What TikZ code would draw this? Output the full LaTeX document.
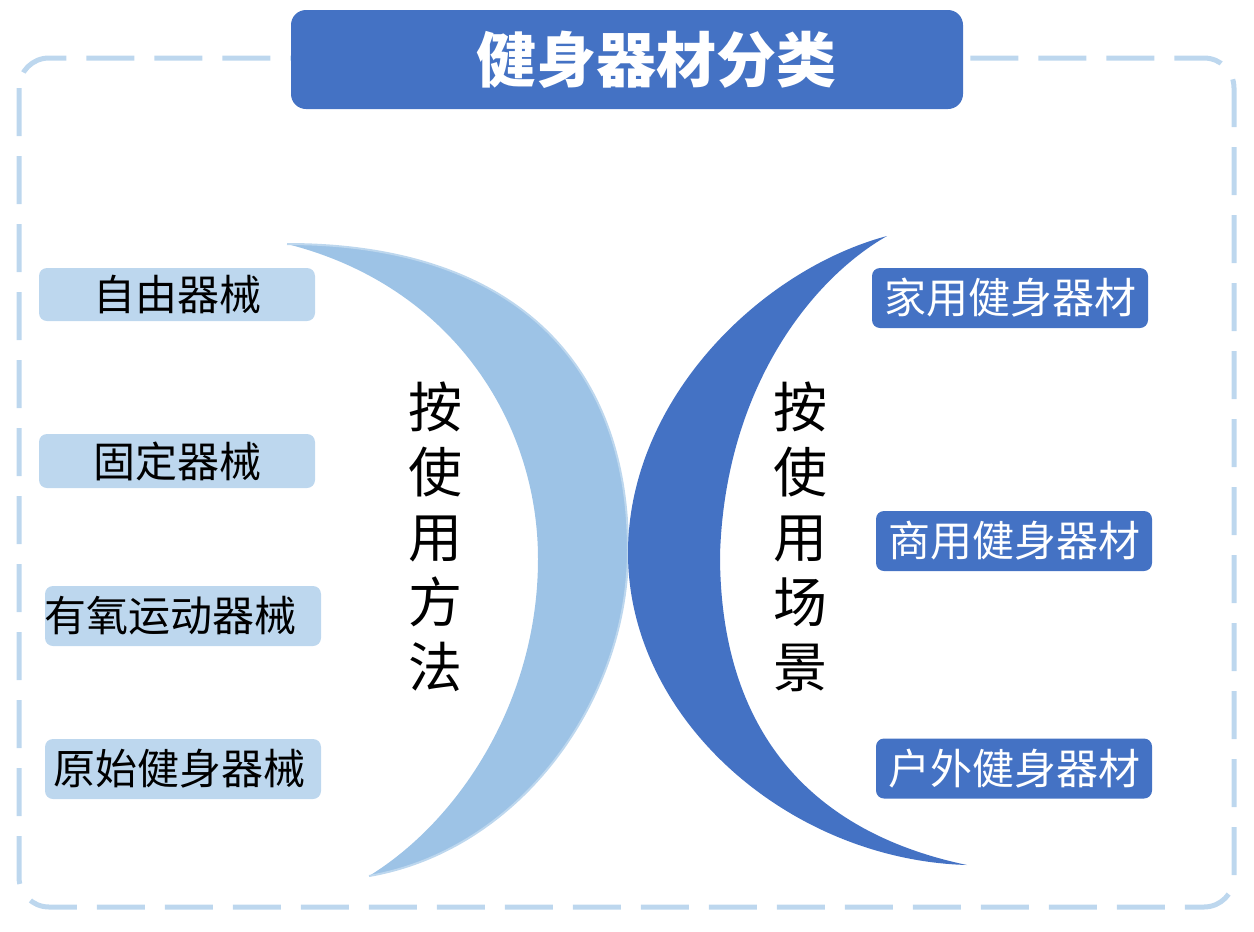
\documentclass[tikz,border=0pt]{standalone}
\usepackage{fontspec}
\setmainfont{Noto Sans CJK SC}
\usepackage{tikz}

\definecolor{darkblue}{HTML}{4472C4}
\definecolor{paleblue}{HTML}{BDD7EE}
\definecolor{moonblue}{HTML}{9DC3E6}

\begin{document}
\begin{tikzpicture}[x=1pt,y=-1pt,
  lbox/.style={fill=paleblue,rounded corners=8pt,minimum width=276pt,inner sep=0pt,text=black,font=\fontsize{42}{50}\selectfont},
  rbox/.style={fill=darkblue,rounded corners=8pt,minimum width=276pt,minimum height=60pt,inner sep=0pt,text=white,font=\fontsize{42}{50}\selectfont},
  vtext/.style={align=center,inner sep=0pt,font=\fontsize{54}{65}\selectfont}]
\useasboundingbox (0,0) rectangle (1254,932);
% Draw dashed frame
\draw[paleblue,line width=5pt,rounded corners=30pt,dash pattern=on 48pt off 20pt] (19,58) rectangle (1234,907);
% Draw title
\node[fill=darkblue,rounded corners=15pt,minimum width=672pt,minimum height=99pt,text=white,font=\fontsize{60}{70}\selectfont\bfseries] (title) at (627,59.5) {\hspace*{58pt}\raisebox{3pt}{健身器材分类}};
% Draw left moon
\fill[moonblue] (287,244) .. controls (510,244) and (628,360) .. (628,550)
  .. controls (628,700) and (520,850) .. (369,876)
  .. controls (460,820) and (538,700) .. (538,559)
  .. controls (538,420) and (450,285) .. cycle;
\draw[paleblue,line width=2pt] (287,244) .. controls (510,244) and (628,360) .. (628,550)
  .. controls (628,700) and (520,850) .. (369,876);
% Draw right moon
\fill[darkblue] (887,236) .. controls (760,270) and (628,400) .. (628,553)
  .. controls (628,720) and (790,860) .. (967,865)
  .. controls (800,830) and (720,720) .. (720,555)
  .. controls (725,390) and (810,280) .. cycle;
% Draw vertical labels
\node[vtext] (method) at (435,537) {按\\使\\用\\方\\法};
\node[vtext] (scene) at (800,537) {按\\使\\用\\场\\景};
% Draw left boxes
\node[lbox,minimum height=53pt] (free) at (177,294.5) {自由器械};
\node[lbox,minimum height=54pt] (fixed) at (177,461) {固定器械};
\node[lbox,minimum height=60pt] (aerobic) at (183,616) {有氧运动器械\hspace*{24pt}};
\node[lbox,minimum height=60pt] (primitive) at (183,769) {原始健身器械\hspace*{8pt}};
% Draw right boxes
\node[rbox] (home) at (1010,298) {家用健身器材};
\node[rbox] (commercial) at (1014,541) {商用健身器材};
\node[rbox] (outdoor) at (1014,768.5) {户外健身器材};
\end{tikzpicture}
\end{document}
